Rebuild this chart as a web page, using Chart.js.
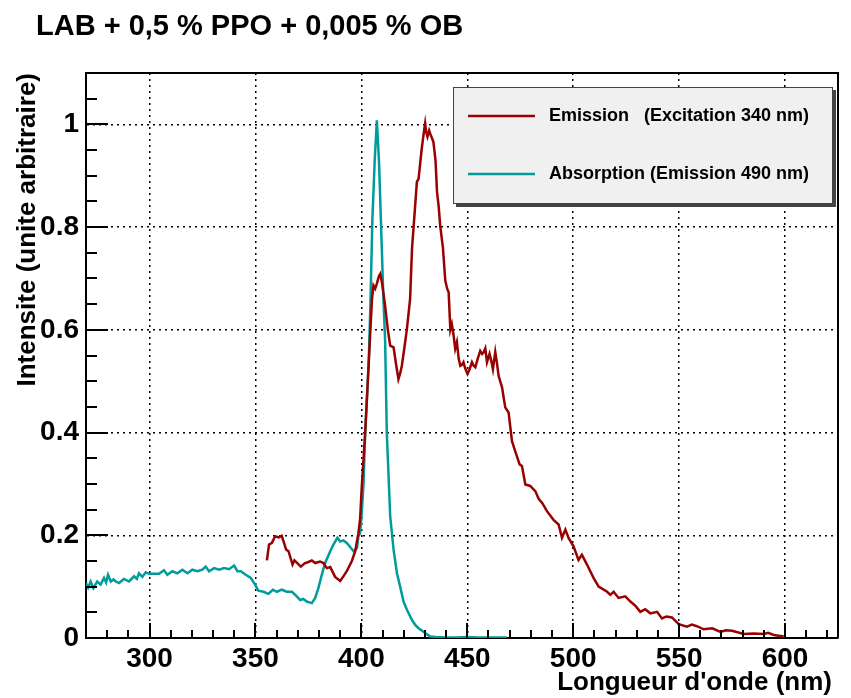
<!DOCTYPE html>
<html lang="fr">
<head>
<meta charset="UTF-8">
<title>LAB + 0,5 % PPO + 0,005 % OB</title>
<script src="https://cdn.jsdelivr.net/npm/chart.js"></script>
<style>
  html, body { margin: 0; padding: 0; background: #fff; }
</style>
</head>
<body>
<canvas id="spectre" width="851" height="698"></canvas>

<script>
// titres
const titre = 'LAB + 0,5 % PPO + 0,005 % OB';
const titreX = "Longueur d'onde (nm)";
const titreY = 'Intensite (unite arbitraire)';
const labelEmission = 'Emission   (Excitation 340 nm)';
const labelAbsorption = 'Absorption (Emission 490 nm)';

// spectre d'emission (nm / intensite)
const emissionNm = [
  355.4, 356.4, 357.7, 359.3, 361.0, 362.4, 364.5, 365.6, 367.5, 368.4, 370.0, 371.4, 373.4, 375.0,
  376.6, 378.2, 380.5, 382.1, 383.7, 385.3, 387.6, 390.0, 391.5, 393.1, 395.5, 397.1, 398.6, 399.4,
  400.2, 401.8, 403.4, 405.0, 405.7, 406.5, 407.3, 408.3, 408.9, 409.8, 411.2, 412.5, 413.6, 415.2,
  416.3, 417.5, 418.3, 419.1, 420.3, 421.5, 423.0, 423.9, 425.0, 426.2, 427.0, 428.5, 429.5, 430.1,
  430.6, 431.2, 432.0, 432.5, 434.0, 435.0, 435.7, 436.5, 437.2, 438.5, 439.6, 440.5, 441.2, 442.0,
  442.7, 443.5, 444.3, 445.1, 445.9, 446.7, 447.5, 448.2, 449.0, 450.1, 451.0, 452.2, 453.0, 453.8,
  455.0, 456.1, 457.0, 457.7, 458.5, 459.3, 460.5, 461.3, 462.1, 463.2, 464.0, 464.8, 466.4, 467.9,
  469.5, 471.1, 472.6, 474.7, 475.8, 477.4, 479.7, 482.1, 483.7, 485.5, 487.6, 490.7, 493.1, 494.7,
  496.3, 497.8, 500.2, 502.5, 504.1, 506.5, 509.6, 512.0, 516.0, 517.5, 519.1, 521.4, 524.6, 527.0,
  529.5, 531.7, 534.0, 536.4, 539.6, 541.9, 544.0, 546.6, 549.8, 553.7, 556.0, 558.4, 561.6, 565.6,
  569.5, 572.0, 575.0, 580.5, 585.2, 590.0, 592.0, 594.7, 599.4
];
const emissionVal = [
  0.151, 0.182, 0.185, 0.198, 0.196, 0.199, 0.172, 0.169, 0.143, 0.151, 0.145, 0.139, 0.146, 0.148,
  0.151, 0.146, 0.149, 0.146, 0.136, 0.138, 0.119, 0.111, 0.120, 0.130, 0.150, 0.169, 0.204, 0.232,
  0.296, 0.400, 0.530, 0.660, 0.686, 0.680, 0.690, 0.705, 0.709, 0.690, 0.647, 0.600, 0.569, 0.566,
  0.535, 0.504, 0.515, 0.530, 0.565, 0.602, 0.660, 0.758, 0.820, 0.888, 0.894, 0.953, 0.985, 1.002,
  0.985, 0.976, 0.988, 0.982, 0.966, 0.930, 0.869, 0.840, 0.803, 0.760, 0.696, 0.680, 0.673, 0.600,
  0.611, 0.590, 0.563, 0.576, 0.545, 0.530, 0.532, 0.537, 0.525, 0.514, 0.522, 0.537, 0.530, 0.527,
  0.545, 0.559, 0.553, 0.556, 0.564, 0.537, 0.553, 0.540, 0.523, 0.557, 0.535, 0.510, 0.488, 0.449,
  0.439, 0.383, 0.364, 0.338, 0.335, 0.299, 0.296, 0.286, 0.271, 0.262, 0.247, 0.230, 0.221, 0.195,
  0.211, 0.195, 0.178, 0.152, 0.162, 0.143, 0.117, 0.100, 0.090, 0.084, 0.090, 0.078, 0.081, 0.071,
  0.062, 0.051, 0.056, 0.048, 0.051, 0.038, 0.042, 0.040, 0.027, 0.022, 0.026, 0.023, 0.017, 0.019,
  0.012, 0.015, 0.014, 0.008, 0.009, 0.008, 0.010, 0.006, 0.003
];

// spectre d'absorption (nm / intensite)
const absorptionNm = [
  270.0, 271.0, 272.2, 273.5, 275.3, 276.9, 278.5, 279.5, 280.4, 281.7, 283.0, 284.0, 285.6, 287.9,
  290.3, 292.7, 294.0, 295.0, 296.6, 298.2, 299.8, 302.1, 304.5, 306.8, 308.4, 310.8, 313.1, 315.5,
  317.9, 320.2, 322.6, 324.9, 326.5, 328.1, 330.5, 332.8, 335.2, 337.5, 339.9, 341.5, 343.1, 345.4,
  347.8, 349.8, 351.4, 353.8, 356.1, 358.2, 360.1, 362.4, 364.8, 367.2, 369.5, 371.1, 372.6, 374.2,
  376.6, 378.2, 379.7, 381.3, 382.9, 385.3, 386.8, 388.7, 390.0, 391.5, 393.1, 394.5, 396.3, 397.9,
  398.6, 399.4, 400.2, 401.0, 401.8, 403.4, 404.2, 405.2, 406.3, 407.3, 408.3, 409.2, 410.4, 411.2,
  412.0, 413.6, 415.2, 416.8, 418.3, 419.9, 421.5, 423.9, 425.5, 427.0, 429.3, 431.0, 432.5, 435.0,
  440.0, 445.0, 450.0, 455.0, 460.0, 465.0, 468.5
];
const absorptionVal = [
  0.107, 0.098, 0.110, 0.097, 0.110, 0.104, 0.117, 0.108, 0.123, 0.110, 0.114, 0.110, 0.107, 0.115,
  0.110, 0.120, 0.115, 0.126, 0.119, 0.128, 0.125, 0.125, 0.125, 0.132, 0.123, 0.130, 0.126, 0.133,
  0.126, 0.133, 0.130, 0.133, 0.139, 0.130, 0.136, 0.133, 0.136, 0.134, 0.141, 0.130, 0.130, 0.123,
  0.117, 0.104, 0.092, 0.090, 0.086, 0.094, 0.090, 0.094, 0.090, 0.090, 0.081, 0.074, 0.076, 0.071,
  0.068, 0.078, 0.097, 0.123, 0.146, 0.169, 0.182, 0.195, 0.188, 0.190, 0.185, 0.178, 0.169, 0.175,
  0.198, 0.204, 0.244, 0.300, 0.400, 0.530, 0.640, 0.816, 0.930, 1.008, 0.930, 0.816, 0.660, 0.580,
  0.400, 0.237, 0.172, 0.126, 0.100, 0.071, 0.055, 0.035, 0.025, 0.019, 0.012, 0.007, 0.003, 0.002,
  0.001, 0.001, 0.002, 0.001, 0.001, 0.001, 0.001
];

// graduations
const xTicks = [300, 350, 400, 450, 500, 550, 600];
const yTicks = [0, 0.2, 0.4, 0.6, 0.8, 1];

const rouge = '#990000';
const cyan = '#009c9c';
const police = '"Liberation Sans", Arial, sans-serif';

Chart.defaults.font.family = police;
Chart.defaults.color = '#000';

// cadre + petites graduations vers l'interieur (style ROOT)
const cadrePlugin = {
  id: 'cadre',
  afterDatasetsDraw(chart) {
    const {ctx, chartArea: a, scales: {x, y}} = chart;
    ctx.save();
    ctx.strokeStyle = '#000';
    ctx.lineWidth = 2;
    ctx.beginPath();
    ctx.moveTo(a.left, a.top);
    ctx.lineTo(a.right, a.top);
    ctx.lineTo(a.right, a.bottom);
    ctx.stroke();

    ctx.beginPath();
    for (let v = 280; v <= 620; v += 10) {
      const px = Math.round(x.getPixelForValue(v));
      const len = v % 50 === 0 ? 15 : 8;
      ctx.moveTo(px, a.bottom);
      ctx.lineTo(px, a.bottom - len);
    }
    for (let i = 1; i <= 21; i++) {
      const py = Math.round(y.getPixelForValue(i * 0.05));
      const len = i % 4 === 0 ? 22 : 11;
      ctx.moveTo(a.left, py);
      ctx.lineTo(a.left + len, py);
    }
    ctx.stroke();
    ctx.restore();
  }
};

// titre du graphe et titre de l'axe x
const titrePlugin = {
  id: 'titre',
  afterDraw(chart) {
    const ctx = chart.ctx;
    ctx.save();
    ctx.fillStyle = '#000';
    ctx.textBaseline = 'alphabetic';
    ctx.font = 'bold 29px ' + police;
    ctx.fillText(titre, 36, 35);
    ctx.font = 'bold 26px ' + police;
    ctx.textAlign = 'right';
    ctx.fillText(titreX, 832, 690);
    ctx.restore();
  }
};

// legende encadree avec ombre
const legendePlugin = {
  id: 'legende',
  afterDraw(chart) {
    const ctx = chart.ctx;
    const bx = 453, by = 87, bw = 380, bh = 117;
    ctx.save();
    ctx.fillStyle = '#444';
    ctx.fillRect(bx + 3, by + 3, bw, bh);
    ctx.fillStyle = '#f0f0f0';
    ctx.fillRect(bx, by, bw, bh);
    ctx.strokeStyle = '#444';
    ctx.lineWidth = 1;
    ctx.strokeRect(bx + 0.5, by + 0.5, bw - 1, bh - 1);

    ctx.font = 'bold 18px ' + police;
    ctx.textBaseline = 'middle';
    chart.data.datasets.forEach((ds, i) => {
      const ly = [116, 174][i];
      ctx.strokeStyle = ds.borderColor;
      ctx.lineWidth = 2.5;
      ctx.beginPath();
      ctx.moveTo(468, ly);
      ctx.lineTo(535, ly);
      ctx.stroke();
      ctx.fillStyle = '#000';
      ctx.fillText(ds.label, 549, ly);
    });
    ctx.restore();
  }
};

new Chart(document.getElementById('spectre'), {
  type: 'line',
  data: {
    datasets: [
      {
        label: labelEmission,
        data: emissionNm.map((v, i) => ({x: v, y: emissionVal[i]})),
        borderColor: rouge,
        borderWidth: 2.5,
        pointRadius: 0,
        tension: 0
      },
      {
        label: labelAbsorption,
        data: absorptionNm.map((v, i) => ({x: v, y: absorptionVal[i]})),
        borderColor: cyan,
        borderWidth: 2.5,
        pointRadius: 0,
        tension: 0
      }
    ]
  },
  options: {
    responsive: false,
    animation: false,
    layout: { padding: {top: 73, right: 13, left: 0, bottom: 0} },
    plugins: {
      legend: { display: false },
      tooltip: { enabled: false }
    },
    scales: {
      x: {
        type: 'linear',
        min: 270,
        max: 625,
        afterBuildTicks: s => { s.ticks = xTicks.map(v => ({value: v})); },
        afterFit: s => { s.height = 60; },
        grid: { color: '#000', lineWidth: 1.5, drawTicks: false },
        border: { display: true, color: '#000', width: 2, dash: [2, 4] },
        ticks: { font: {size: 28, weight: 'bold'}, padding: 4, maxRotation: 0, autoSkip: false }
      },
      y: {
        min: 0,
        max: 1.1,
        afterBuildTicks: s => { s.ticks = yTicks.map(v => ({value: v})); },
        afterFit: s => { s.width = 86; },
        grid: { color: '#000', lineWidth: 1.5, drawTicks: false },
        border: { display: true, color: '#000', width: 2, dash: [2, 4] },
        ticks: { font: {size: 28, weight: 'bold'}, padding: 7, callback: v => String(+v.toFixed(2)) },
        title: {
          display: true, text: titreY, align: 'end',
          font: {size: 26, weight: 'bold'}, padding: {top: 12, bottom: 0}
        }
      }
    }
  },
  plugins: [cadrePlugin, titrePlugin, legendePlugin]
});
</script>
</body>
</html>
